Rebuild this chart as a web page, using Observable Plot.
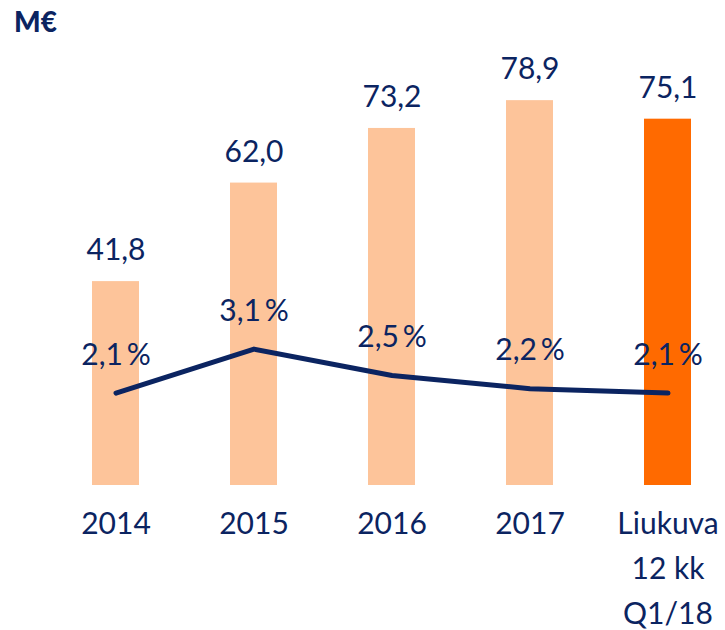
<!DOCTYPE html>
<html>
<head>
<meta charset="utf-8">
<script src="https://cdn.jsdelivr.net/npm/d3@7"></script>
<script src="https://cdn.jsdelivr.net/npm/@observablehq/plot@0.6"></script>
<style>
  html, body { margin: 0; padding: 0; background: #fff; }
  #wrap { position: relative; width: 725px; height: 630px; overflow: hidden; }
  #title { position: absolute; left: 14px; top: 4px; font-family: Lato, "Open Sans", sans-serif; font-weight: 900; font-size: 28px; color: #0b2461; }
  #chart { position: absolute; left: 0; top: 0; }
</style>
</head>
<body>
<div id="wrap">
  <div id="chart"></div>
  <div id="title">M€</div>
</div>
<script>
const categories = ["2014", "2015", "2016", "2017", "Liukuva\n12 kk\nQ1/18"];
const values = [41.8, 62.0, 73.2, 78.9, 75.1];
const percents = [2.1, 3.1, 2.5, 2.2, 2.1];
const highlight = [false, false, false, false, true];

const navy = "#0b2461";
const light = "#fdc49a";
const dark = "#ff6a00";
// secondary axis: 1 % corresponds to this many M€ units on the shared y scale
const pctScale = 9.02;

const data = categories.map((c, i) => ({
  cat: c, value: values[i], pct: percents[i], hl: highlight[i]
}));

const fmt = v => v.toFixed(1).replace(".", ",");

const chart = Plot.plot({
  width: 725,
  height: 630,
  marginTop: 46,
  marginBottom: 145,
  marginLeft: 62,
  marginRight: 5,
  style: { fontFamily: "Lato, 'Open Sans', sans-serif", color: navy, background: "transparent" },
  x: { domain: categories, paddingInner: 0.66, paddingOuter: 0.2, align: 0.5, label: null },
  y: { domain: [0, 90], axis: null },
  marks: [
    Plot.barY(data, { x: "cat", y: "value", fill: d => d.hl ? dark : light }),
    Plot.line(data, { x: "cat", y: d => d.pct * pctScale, stroke: navy, strokeWidth: 5 }),
    Plot.text(data, { x: "cat", y: "value", text: d => fmt(d.value), dy: -31, fontSize: 30, fill: navy }),
    Plot.text(data, { x: "cat", y: d => d.pct * pctScale, text: d => fmt(d.pct) + "\u2009%", dy: -38, fontSize: 30, fill: navy }),
    Plot.axisX({ tickSize: 0, tickPadding: 17, fontSize: 30, lineHeight: 1.5, fill: navy, label: null })
  ]
});
document.getElementById("chart").appendChild(chart);
</script>
</body>
</html>
